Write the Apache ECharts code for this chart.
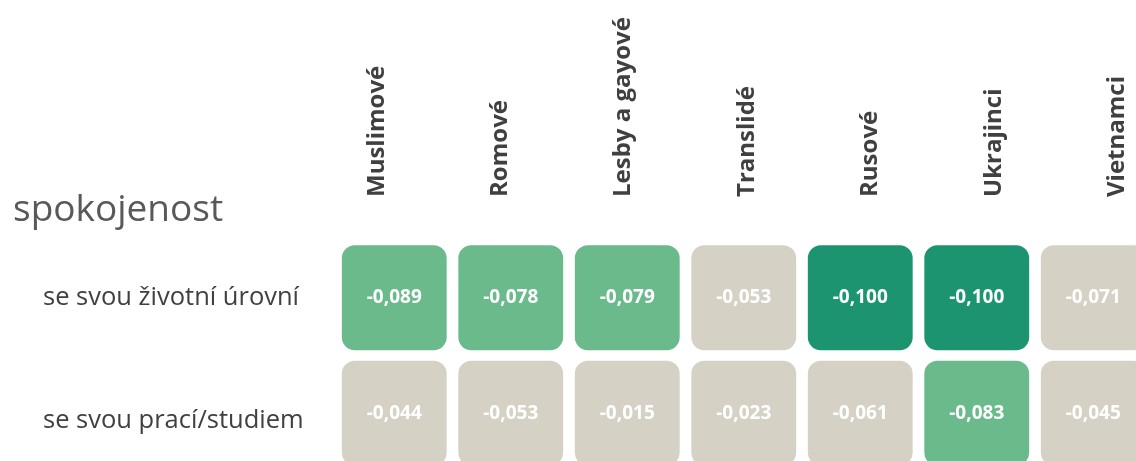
<!DOCTYPE html>
<html>
<head>
<meta charset="utf-8">
<script src="https://cdn.jsdelivr.net/npm/echarts@6/dist/echarts.min.js"></script>
<style>
  html, body { margin: 0; padding: 0; background: #fff; }
  #chart { width: 1136px; height: 461px; }
</style>
</head>
<body>
<div id="chart"></div>
<script>
// skupiny (sloupce) a položky spokojenosti (řádky)
const groups = ['Muslimové', 'Romové', 'Lesby a gayové', 'Translidé', 'Rusové', 'Ukrajinci', 'Vietnamci'];
const rows = ['se svou životní úrovní', 'se svou prací/studiem'];
const livingValues = [-0.089, -0.078, -0.079, -0.053, -0.100, -0.100, -0.071];
const workValues = [-0.044, -0.053, -0.015, -0.023, -0.061, -0.083, -0.045];

const cells = [];
livingValues.forEach((v, i) => cells.push([i, 0, v]));
workValues.forEach((v, i) => cells.push([i, 1, v]));

const fmt = v => v.toFixed(3).replace('.', ',');

/**
 * zaoblená buňka s hodnotou uprostřed
 */
function renderCell(params, api) {
  const c = api.coord([api.value(0), api.value(1)]);
  const s = api.size([1, 1]);
  const w = s[0] * 0.9;
  const h = s[1] * 0.91;
  return {
    type: 'rect',
    shape: { x: c[0] - w / 2, y: c[1] - h / 2, width: w, height: h, r: 13 },
    style: { fill: api.visual('color') },
    textContent: {
      style: {
        text: fmt(api.value(2)),
        fill: '#ffffff',
        font: 'bold 19px "Open Sans", sans-serif'
      }
    },
    textConfig: { position: 'inside' }
  };
}

const chart = echarts.init(document.getElementById('chart'));
chart.setOption({
  animation: false,
  title: {
    text: 'spokojenost',
    left: 8,
    top: 187,
    textStyle: { fontFamily: 'Open Sans', fontSize: 37, fontWeight: 'normal', color: '#595959' }
  },
  visualMap: {
    show: false,
    type: 'piecewise',
    dimension: 2,
    seriesIndex: 0,
    pieces: [
      { lte: -0.095, color: '#1c9470' },
      { gt: -0.095, lte: -0.075, color: '#6aba8c' },
      { gt: -0.075, color: '#d5d1c5' }
    ]
  },
  grid: [
    // jen pro popisky sloupců
    { left: 315, width: 864, top: 205, height: 1, outerBoundsMode: 'none' },
    // buňky
    { left: 336, width: 815.5, top: 240, height: 231, outerBoundsMode: 'none' }
  ],
  xAxis: [
    {
      gridIndex: 0,
      type: 'category',
      position: 'top',
      data: groups,
      axisLine: { show: false },
      axisTick: { show: false },
      axisLabel: {
        rotate: 90,
        margin: 8,
        fontFamily: 'Open Sans',
        fontSize: 24,
        fontWeight: 'bold',
        color: '#404040'
      }
    },
    {
      gridIndex: 1,
      type: 'category',
      data: groups,
      show: false
    }
  ],
  yAxis: [
    {
      gridIndex: 0,
      type: 'value',
      show: false
    },
    {
      gridIndex: 1,
      type: 'category',
      data: rows,
      inverse: true,
      axisLine: { show: false },
      axisTick: { show: false },
      axisLabel: {
        align: 'left',
        margin: 293,
        fontFamily: 'Open Sans',
        fontSize: 25.5,
        color: '#404040',
        // druhý popisek je v originále o kousek níž
        formatter: (val, idx) => idx === 1 ? `{low|${val}}` : val,
        rich: {
          low: { fontFamily: 'Open Sans', fontSize: 25.5, color: '#404040', padding: [14, 0, 0, 0] }
        }
      }
    }
  ],
  series: [
    {
      type: 'custom',
      xAxisIndex: 1,
      yAxisIndex: 1,
      data: cells,
      renderItem: renderCell
    }
  ]
});
</script>
</body>
</html>
